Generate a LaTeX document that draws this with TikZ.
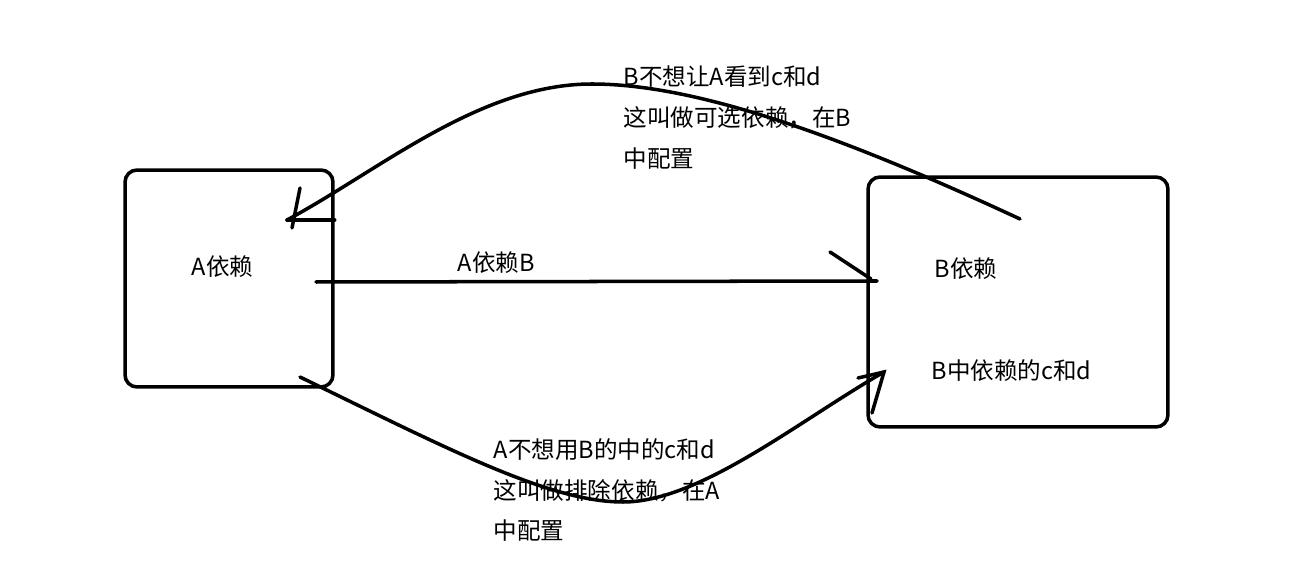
\documentclass[tikz,border=0pt]{standalone}
\usepackage{fontspec}
\setmainfont{Noto Sans CJK SC}
\usetikzlibrary{calc}

\begin{document}
\begin{tikzpicture}[x=0.02cm, y=-0.02cm, line width=2pt, line cap=round,
    every node/.style={font=\fontsize{13.4}{23.3}\selectfont},
    box/.style={draw, rounded corners=0.24cm, inner sep=0pt},
    lbl/.style={anchor=west, inner sep=0pt, align=left}]
% Dependency sketch: A depends on B, optional / excluded dependencies c and d
\useasboundingbox (0,0) rectangle (1295,573);

% Boxes for A and B
\node[box, minimum width=4.16cm, minimum height=4.34cm] (boxA) at (229,278.5) {};
\node[box, minimum width=6cm, minimum height=5cm] (boxB) at (1018,302) {};

% Texts
\node[lbl] (txtA) at (190,267) {A依赖};
\node[lbl] (txtB) at (933,269) {B依赖};
\node[lbl] (txtBcd) at (930,371) {B中依赖的c和d};
\node[lbl] (txtAB) at (456,263) {A依赖B};
\node[lbl] (txtOpt) at (622,118) {B不想让A看到c和d\\这叫做可选依赖，在B\\中配置};
\node[lbl] (txtExcl) at (492,490) {A不想用B的中的c和d\\这叫做排除依赖，在A\\中配置};

% Connector ends
\coordinate (midA) at (316,282);   % A -> B, straight
\coordinate (midB) at (877,281);
\coordinate (optS) at (1020,219);  % B -> A, optional (over the top)
\coordinate (optT) at (287,220);
\coordinate (exS) at (300,377);    % A -> B, exclusion (under)
\coordinate (exT) at (884,372);

% A depends on B
\draw (midA) -- (midB);
\draw ($(midB)+(-47,-29)$) -- ($(midB)+(-6,-2)$);

% Optional dependency, hand-drawn tip at A
\draw (optS) .. controls (850,140) and (700,84) .. (592,84)
    .. controls (480,84) and (380,170) .. (optT);
\draw (optT) -- (optT -| boxA.east);
\draw ($(optT)+(13,-32)$) -- ($(optT)+(5,8)$);

% Exclusion, hand-drawn tip at B
\draw (exS) .. controls (450,450) and (550,502) .. (623,502)
    .. controls (700,502) and (800,420) .. (exT);
\draw ($(exT)+(-26,6)$) -- (exT) -- ($(exT)+(-12,41)$);

\end{tikzpicture}
\end{document}
